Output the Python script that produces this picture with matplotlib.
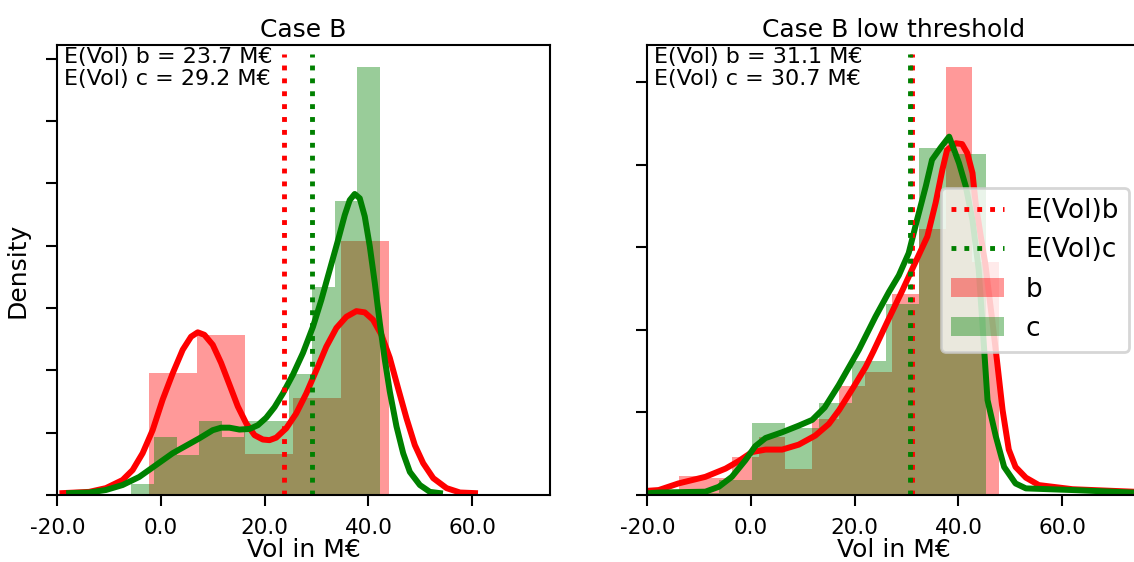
import numpy as np
import matplotlib
matplotlib.use("Agg")
import matplotlib.pyplot as plt
from matplotlib.ticker import FormatStrFormatter
from matplotlib.patches import Patch
from matplotlib.lines import Line2D

plt.rcParams['font.family'] = ['DejaVu Sans']

# ---------------- data: panel 1 "Case B" ----------------
case1_title = "Case B"
case1_mean_b = 23.7
case1_mean_c = 29.2
case1_b_edges = [-2.4, 6.9, 16.2, 25.4, 34.7, 44.0]
case1_b_dens = [0.0195, 0.0257, 0.0066, 0.0156, 0.0408]
case1_c_edges = [-5.7, -1.35, 3.0, 7.35, 11.7, 16.05, 20.4, 24.75, 29.1, 33.45, 37.8, 42.15]
case1_c_dens = [0.0018, 0.0093, 0.0064, 0.0119, 0.0093, 0.0119, 0.0119, 0.0194, 0.0334, 0.0472, 0.0686]
case1_kde_b_x = [-19.01, -13.86, -10.64, -7.42, -5.48, -3.55, -1.62, 0.31, 2.24, 4.18, 5.79, 7.08,
                 8.36, 9.97, 11.58, 13.20, 14.81, 16.42, 18.03, 19.64, 20.92, 22.21, 24.14, 26.08,
                 28.01, 29.94, 31.87, 33.81, 35.74, 37.67, 39.28, 40.89, 42.50, 44.11, 45.72, 47.33,
                 48.94, 50.55, 52.49, 55.06, 57.64, 60.54]
case1_kde_b_y = [0.0003, 0.0005, 0.0011, 0.0024, 0.0040, 0.0067, 0.0104, 0.0153, 0.0195, 0.0233,
                 0.0254, 0.0261, 0.0257, 0.0241, 0.0212, 0.0177, 0.0142, 0.0115, 0.0096, 0.0089,
                 0.0088, 0.0092, 0.0107, 0.0131, 0.0163, 0.0200, 0.0238, 0.0268, 0.0286, 0.0295,
                 0.0293, 0.0281, 0.0257, 0.0220, 0.0171, 0.0123, 0.0080, 0.0051, 0.0027, 0.0011,
                 0.0004, 0.0003]
case1_kde_c_x = [-17.72, -13.86, -10.64, -7.42, -4.20, -0.98, 2.24, 4.82, 7.40, 9.97, 11.58, 13.20,
                 15.13, 17.06, 18.67, 20.28, 21.89, 23.50, 25.43, 27.37, 29.30, 30.91, 32.52, 34.13,
                 35.42, 36.38, 37.35, 38.32, 39.28, 40.25, 41.22, 42.18, 43.15, 44.11, 45.40, 46.69,
                 47.98, 49.91, 51.84, 53.78]
case1_kde_c_y = [0.0003, 0.0004, 0.0008, 0.0016, 0.0029, 0.0048, 0.0067, 0.0079, 0.0091, 0.0104,
                 0.0108, 0.0108, 0.0105, 0.0106, 0.0112, 0.0124, 0.0141, 0.0163, 0.0193, 0.0228,
                 0.0270, 0.0313, 0.0361, 0.0409, 0.0449, 0.0473, 0.0483, 0.0476, 0.0447, 0.0399,
                 0.0340, 0.0276, 0.0217, 0.0166, 0.0110, 0.0067, 0.0037, 0.0016, 0.0005, 0.0003]
case1_ylim = 0.0722

# ---------------- data: panel 2 "Case B low threshold" ----------------
case2_title = "Case B low threshold"
case2_mean_b = 31.1
case2_mean_c = 30.7
case2_b_edges = [-13.97, -8.82, -3.67, 1.48, 6.63, 11.77, 16.92, 22.07, 27.22, 32.37, 37.52, 42.66, 47.81]
case2_b_dens = [0.0023, 0.0020, 0.0046, 0.0070, 0.0032, 0.0092, 0.0132, 0.0149, 0.0244, 0.0322, 0.0518, 0.0282]
case2_c_edges = [-12.66, -6.23, 0.21, 6.64, 13.08, 19.51, 25.95, 32.38, 38.82, 45.25]
case2_c_dens = [0.0002, 0.0018, 0.0087, 0.0081, 0.0112, 0.0162, 0.0231, 0.0420, 0.0413]
case2_kde_b_x = [-20.1, -17.8, -14.0, -8.8, -4.9, -2.4, 0.2, 2.8, 6.0, 9.2, 12.4, 15.0, 17.0, 19.5,
                 22.1, 23.6, 26.6, 29.2, 31.7, 34.0, 35.6, 36.9, 37.8, 39.5, 40.7, 41.7, 42.7, 43.3,
                 44.3, 45.2, 46.5, 47.4, 48.5, 49.7, 51.0, 53.0, 55.5, 62.0, 73.6, 80.0]
case2_kde_b_y = [0.0005, 0.0006, 0.0014, 0.0022, 0.0032, 0.0041, 0.0052, 0.0055, 0.0055, 0.0061,
                 0.0072, 0.0086, 0.0103, 0.0128, 0.0155, 0.0174, 0.0214, 0.0248, 0.0282, 0.0313,
                 0.0354, 0.0394, 0.0418, 0.0426, 0.0425, 0.0414, 0.0390, 0.0354, 0.0313, 0.0279,
                 0.0212, 0.0164, 0.0103, 0.0055, 0.0034, 0.0021, 0.0012, 0.0007, 0.0004, 0.0003]
case2_kde_c_x = [-20.1, -17.8, -8.8, -6.2, -3.7, -1.1, 0.8, 2.8, 6.0, 9.2, 11.8, 14.2, 16.9, 20.8,
                 24.0, 26.6, 28.5, 30.4, 32.0, 33.7, 34.9, 36.6, 38.2, 40.1, 41.4, 42.7, 43.9, 44.7,
                 45.6, 47.2, 48.8, 51.0, 53.0, 62.0, 73.6, 80.0]
case2_kde_c_y = [0.0002, 0.0003, 0.0004, 0.0010, 0.0022, 0.0042, 0.0059, 0.0069, 0.0076, 0.0084,
                 0.0091, 0.0106, 0.0133, 0.0176, 0.0216, 0.0246, 0.0266, 0.0293, 0.0333, 0.0374,
                 0.0406, 0.0421, 0.0434, 0.0402, 0.0374, 0.0333, 0.0273, 0.0200, 0.0115, 0.0071,
                 0.0034, 0.0014, 0.0008, 0.0006, 0.0003, 0.0002]
case2_ylim = 0.0545

xticks = [-20, 0, 20, 40, 60]
xlim = (-20, 75)
xlabel = "Vol in M€"
ylabel = "Density"

# ---------------- drawing ----------------
fig = plt.figure(figsize=(11.34, 5.62), dpi=100)
W, H = 1134.0, 562.0
ax1 = fig.add_axes([57.3 / W, 1 - 495 / H, 492.7 / W, 450 / H])
ax2 = fig.add_axes([647.3 / W, 1 - 495 / H, 492.7 / W, 450 / H])


def hist(ax, edges, dens, color):
    e = np.asarray(edges)
    ax.bar(e[:-1], dens, width=np.diff(e), align='edge', color=color, alpha=0.4,
           linewidth=0)


def panel(ax, title, mb, mc, be, bd, ce, cd, kbx, kby, kcx, kcy, ylim, yticks):
    hist(ax, be, bd, 'red')
    ax.plot(kbx, kby, color='red', lw=4.3, solid_joinstyle='round')
    hist(ax, ce, cd, 'green')
    ax.plot(kcx, kcy, color='green', lw=4.3, solid_joinstyle='round')
    ax.axvline(mb, ymax=0.98, color='red', ls=':', lw=3.5)
    ax.axvline(mc, ymax=0.98, color='green', ls=':', lw=3.5)
    ax.set_xlim(*xlim)
    ax.set_ylim(0, ylim)
    ax.set_xticks(xticks)
    ax.xaxis.set_major_formatter(FormatStrFormatter('%.1f'))
    ax.set_yticks(yticks)
    ax.set_yticklabels([])
    ax.tick_params(direction='out', length=7.7, width=1.5, labelsize=15.5, pad=9)
    for s in ax.spines.values():
        s.set_linewidth(1.5)
    ax.set_title(title, fontsize=18, pad=6)
    ax.set_xlabel(xlabel, fontsize=18, labelpad=0)
    ax.text(0.014, 0.996, "E(Vol) b = %.1f M€\nE(Vol) c = %.1f M€" % (mb, mc),
            transform=ax.transAxes, ha='left', va='top', fontsize=16, linespacing=1.15)


panel(ax1, case1_title, case1_mean_b, case1_mean_c, case1_b_edges, case1_b_dens,
      case1_c_edges, case1_c_dens, case1_kde_b_x, case1_kde_b_y, case1_kde_c_x, case1_kde_c_y,
      case1_ylim, [0, 0.01, 0.02, 0.03, 0.04, 0.05, 0.06, 0.07])
panel(ax2, case2_title, case2_mean_b, case2_mean_c, case2_b_edges, case2_b_dens,
      case2_c_edges, case2_c_dens, case2_kde_b_x, case2_kde_b_y, case2_kde_c_x, case2_kde_c_y,
      case2_ylim, [0, 0.01, 0.02, 0.03, 0.04, 0.05])
ax1.set_ylabel(ylabel, fontsize=18, labelpad=3)

handles = [Line2D([], [], color='red', ls=':', lw=3.5),
           Line2D([], [], color='green', ls=':', lw=3.5),
           Patch(facecolor='red', alpha=0.4, linewidth=0),
           Patch(facecolor='green', alpha=0.4, linewidth=0)]
leg = ax2.legend(handles, ['E(Vol)b', 'E(Vol)c', 'b', 'c'], loc='center right', fontsize=19,
                 borderaxespad=0.4)
leg.get_frame().set_linewidth(2)

fig.savefig("out.png", dpi=100)
